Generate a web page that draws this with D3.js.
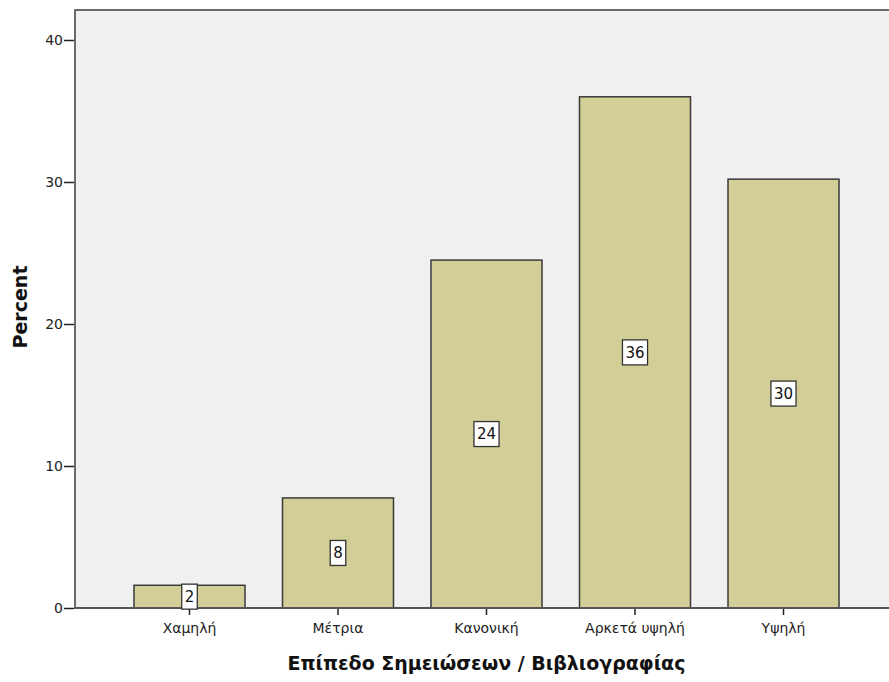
<!DOCTYPE html>
<html><head><meta charset="utf-8">
<script src="https://cdn.jsdelivr.net/npm/d3@7"></script>
<style>body{margin:0;background:#fff}svg{display:block}text{font-family:"DejaVu Sans",Verdana,sans-serif}</style>
</head><body>
<svg id="c" width="889" height="682"></svg>
<script>
const categories = ["Χαμηλή","Μέτρια","Κανονική","Αρκετά υψηλή","Υψηλή"];
const values = [1.6, 7.75, 24.5, 36.0, 30.2];
const labels = ["2","8","24","36","30"];
const yTicks = [0,10,20,30,40];

const svg = d3.select("#c");
const L = 75, R = 889, T = 10, B = 608;
const x = d3.scaleBand().domain(categories).range([134, 839]).paddingInner(0.2525).paddingOuter(0);
const y = d3.scaleLinear().domain([0, 40]).range([B, 40]);

svg.append("rect").attr("x", L).attr("y", T).attr("width", R - L + 2).attr("height", B - T)
  .attr("fill", "#f0f0f0").attr("stroke", "#6a6a6a").attr("stroke-width", 2);

svg.selectAll(".bar").data(values).enter().append("rect")
  .attr("x", (d,i) => x(categories[i]))
  .attr("y", d => y(d))
  .attr("width", x.bandwidth())
  .attr("height", d => B - y(d))
  .attr("fill", "#d3ce97").attr("stroke", "#3a3a3a").attr("stroke-width", 1.5);

// axes
const ya = svg.append("g").attr("transform", `translate(${L - 1},0)`)
  .call(d3.axisLeft(y).tickValues(yTicks).tickSize(10).tickPadding(1));
ya.select(".domain").remove();
ya.selectAll("line").attr("stroke", "#222").attr("stroke-width", 1.5);
ya.selectAll("text").attr("font-size", 14).attr("fill", "#222");

const xa = svg.append("g").attr("transform", `translate(0,${B})`)
  .call(d3.axisBottom(x).tickSize(7).tickPadding(8));
xa.select(".domain").remove();
xa.selectAll("line").attr("stroke", "#222").attr("stroke-width", 1.5);
xa.selectAll("text").attr("font-size", 14).attr("fill", "#222");

svg.append("line").attr("x1", L).attr("x2", R).attr("y1", B).attr("y2", B)
  .attr("stroke", "#555").attr("stroke-width", 2);

// value labels
const lg = svg.selectAll(".lab").data(values).enter().append("g")
  .attr("transform", (d,i) => `translate(${x(categories[i]) + x.bandwidth()/2},${y(d/2)})`);
lg.each(function(d,i){
  const g = d3.select(this);
  const t = g.append("text").text(labels[i]).attr("text-anchor","middle").attr("dy","0.36em")
    .attr("font-size", 15).attr("fill", "#111");
  const w = t.node().getComputedTextLength();
  g.insert("rect","text").attr("x", -w/2 - 3).attr("y", -12.5).attr("width", w + 6).attr("height", 25)
    .attr("fill", "#fff").attr("stroke", "#333").attr("stroke-width", 1.3);
});

svg.append("text").attr("x", 486.5).attr("y", 670).attr("text-anchor","middle")
  .attr("font-size", 19).attr("font-weight","bold").attr("fill","#111")
  .text("Επίπεδο Σημειώσεων / Βιβλιογραφίας");
svg.append("text").attr("transform", `translate(27,307) rotate(-90)`).attr("text-anchor","middle")
  .attr("font-size", 19).attr("font-weight","bold").attr("fill","#111").text("Percent");
</script>
</body></html>
